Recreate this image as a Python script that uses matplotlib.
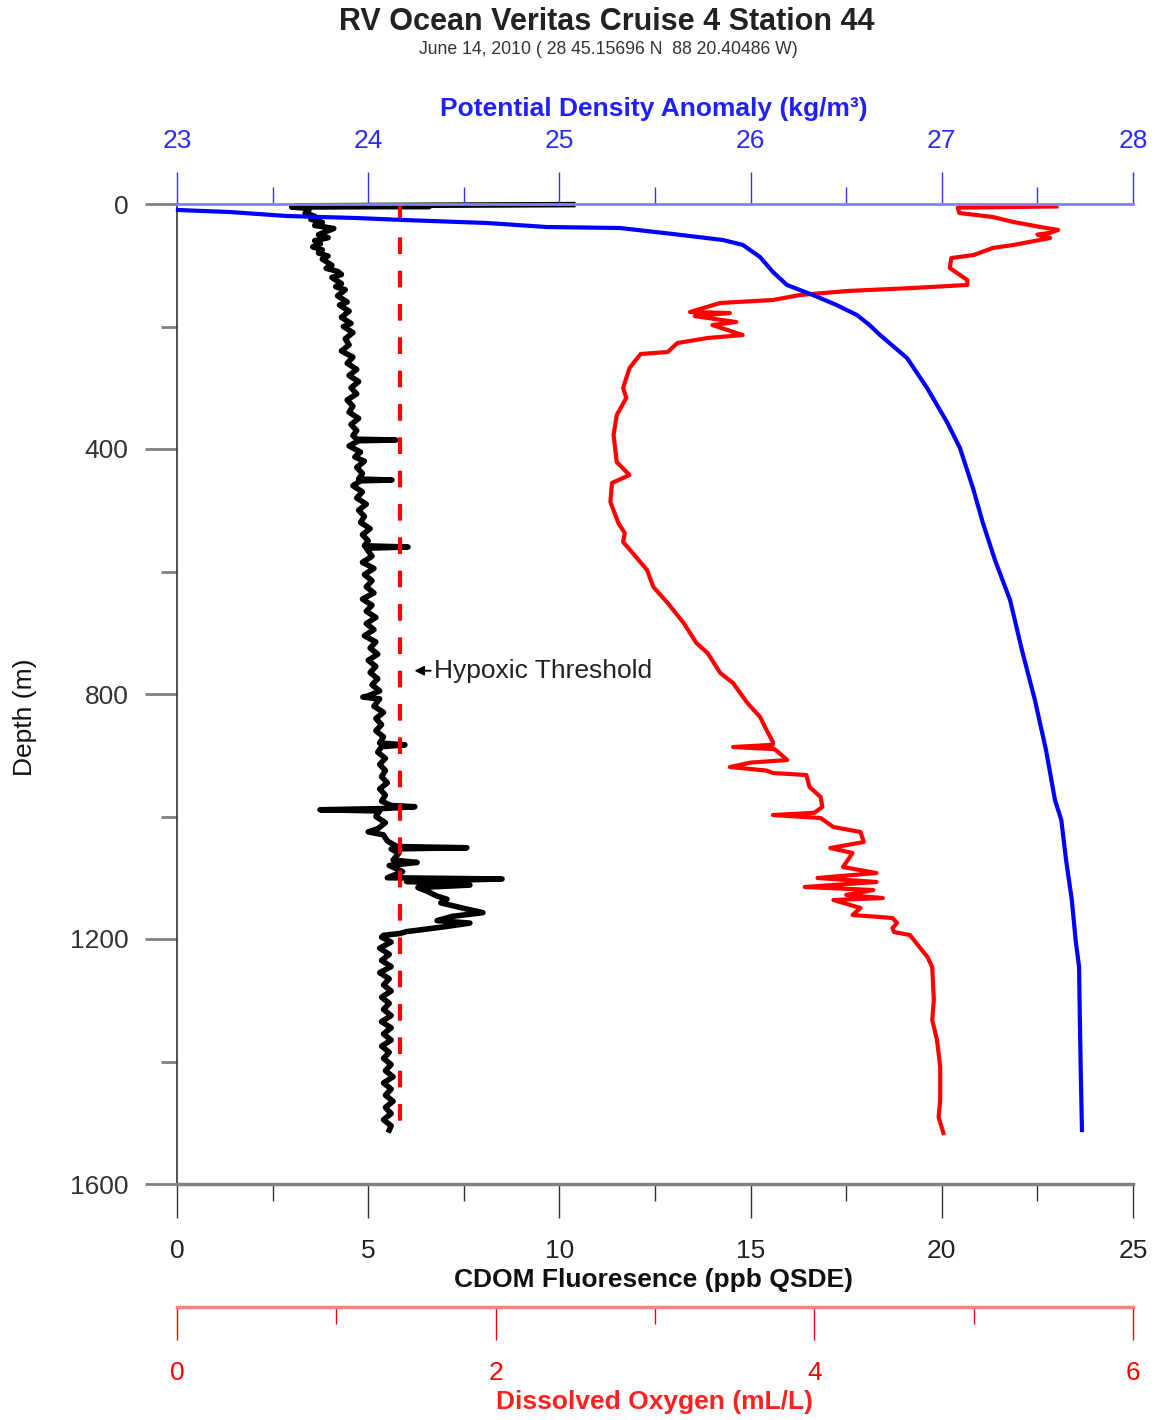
import matplotlib
matplotlib.use('Agg')
import matplotlib.pyplot as plt
from matplotlib.ticker import MultipleLocator

plt.rcParams['font.family'] = ['Liberation Sans', 'DejaVu Sans']

# ---------------- data ----------------
TITLE = "RV Ocean Veritas Cruise 4 Station 44"
SUBTITLE = "June 14, 2010 ( 28 45.15696 N  88 20.40486 W)"
HYPOXIC = 1.4  # mL/L

# CDOM fluorescence (ppb QSDE)
cdom_depth = [1, 2, 3, 4, 5, 7, 10, 15, 20, 25, 30, 35, 40, 45, 50, 55, 60, 65, 70, 75,
              80, 85, 90, 100, 105, 110, 115, 120, 130, 135, 140, 150, 160, 165, 175, 185,
              195, 200, 210, 220, 230, 240, 250, 260, 270, 280, 290, 300, 310, 320, 330,
              340, 350, 360, 370, 378, 384, 385.3, 386.5, 395, 405, 413, 420, 430, 440,
              449, 450.6, 452, 460, 470, 480, 490, 500, 510, 520, 530, 540, 550, 558, 560,
              562, 575, 585, 595, 605, 615, 625, 635, 645, 655, 665, 675, 685, 695, 705,
              715, 725, 735, 745, 755, 765, 775, 785, 795, 803, 805, 808, 820, 830, 840,
              850, 860, 870, 880, 883, 886, 895, 905, 915, 925, 935, 945, 955, 965, 975,
              982, 984, 987, 989, 991, 1000, 1010, 1020, 1025, 1030, 1040, 1049, 1051,
              1053, 1060, 1071, 1075, 1080, 1090, 1100, 1102, 1106, 1112, 1116, 1122,
              1130, 1135, 1141, 1150, 1157, 1163, 1170, 1174, 1180, 1188, 1191, 1194,
              1197, 1205, 1215, 1225, 1235, 1245, 1255, 1265, 1275, 1285, 1295, 1305,
              1315, 1325, 1335, 1345, 1355, 1365, 1375, 1385, 1395, 1405, 1415, 1425,
              1435, 1445, 1455, 1465, 1475, 1485, 1495, 1505, 1512]
cdom_value = [10.35, 6.5, 3.1, 6.6, 3.0, 3.4, 3.45, 3.35, 3.6, 3.5, 3.8, 3.6, 4.1, 3.9, 3.7,
              3.95, 3.6, 3.75, 3.55, 3.8, 3.7, 3.95, 3.8, 4.05, 3.9, 4.2, 4.3, 4.05, 4.3,
              4.15, 4.4, 4.2, 4.45, 4.25, 4.5, 4.3, 4.55, 4.35, 4.6, 4.4, 4.5, 4.3, 4.6,
              4.45, 4.7, 4.5, 4.75, 4.55, 4.7, 4.45, 4.6, 4.5, 4.75, 4.55, 4.7, 4.6, 4.7,
              5.72, 4.75, 4.5, 4.8, 4.65, 4.9, 4.7, 4.85, 4.75, 5.62, 4.8, 4.6, 4.85, 4.7,
              4.95, 4.75, 4.9, 4.8, 5.05, 4.85, 5.0, 4.9, 6.04, 4.95, 5.1, 4.85, 5.15, 4.9,
              5.1, 4.95, 5.15, 4.85, 5.1, 4.95, 5.2, 4.95, 5.15, 4.9, 5.2, 5.05, 5.25, 5.0,
              5.2, 5.05, 5.25, 5.1, 5.3, 5.0, 4.86, 5.3, 5.15, 5.4, 5.2, 5.35, 5.2, 5.4,
              5.3, 5.96, 5.35, 5.25, 5.45, 5.3, 5.45, 5.35, 5.5, 5.3, 5.45, 5.35, 5.6, 6.22,
              5.4, 3.74, 5.3, 5.2, 5.45, 5.25, 5.0, 5.4, 5.5, 5.75, 7.58, 5.6, 5.8, 5.65,
              6.28, 5.55, 5.9, 5.5, 8.50, 6.0, 7.66, 6.3, 6.54, 6.8, 7.06, 6.9, 7.5, 8.0,
              7.2, 6.8, 7.66, 7.0, 6.0, 5.83, 5.4, 5.35, 5.6, 5.3, 5.55, 5.35, 5.6, 5.3,
              5.55, 5.4, 5.6, 5.35, 5.55, 5.4, 5.6, 5.35, 5.6, 5.4, 5.6, 5.35, 5.55, 5.4,
              5.6, 5.45, 5.65, 5.4, 5.6, 5.45, 5.65, 5.45, 5.6, 5.4, 5.6, 5.55]

# Dissolved oxygen (mL/L)
oxy_depth = [4, 6, 14.7, 21.2, 29.4, 37.6, 42.4, 47, 50, 55.5, 66.9, 71.8, 83.3, 88.2, 104.5,
             124.1, 132.2, 137.1, 142.0, 148.6, 156.7, 161.6, 176.3, 178, 183, 192.7, 197.6,
             213.9, 218.8, 227, 241.6, 244.9, 267.8, 300.4, 316.7, 344.5, 377.2, 421.2,
             442.5, 455.5, 486.5, 520.8, 537.2, 551.8, 569.8, 597.6, 625.3, 651.5, 684.1,
             716.8, 733.1, 765.7, 782.1, 814.7, 837.6, 858.8, 878.4, 883, 886.6, 890,
             896.4, 907.8, 912, 919.2, 925, 929.0, 932.3, 951.9, 968.2, 984.5, 994, 997.6,
             1002.5, 1017.2, 1025.3, 1041.7, 1051.5, 1059.6, 1082.5, 1092.3, 1100.4,
             1106.9, 1115.1, 1120.0, 1128, 1133.1, 1136.3, 1149.4, 1160.8, 1165.7, 1173.9,
             1182.1, 1188.6, 1193.5, 1206.6, 1229.4, 1245.8, 1299.6, 1332.3, 1364.9,
             1409.0, 1462.9, 1490.7, 1516.8]
oxy_value = [5.52, 4.90, 4.91, 5.12, 5.25, 5.42, 5.53, 5.48, 5.40, 5.48, 5.25, 5.12, 5.00,
             4.86, 4.85, 4.96, 4.96, 4.62, 4.21, 3.91, 3.74, 3.41, 3.22, 3.47, 3.25, 3.51,
             3.36, 3.55, 3.33, 3.14, 3.08, 2.91, 2.84, 2.80, 2.82, 2.76, 2.74, 2.76, 2.84,
             2.73, 2.72, 2.77, 2.81, 2.80, 2.86, 2.95, 2.99, 3.08, 3.18, 3.26, 3.33, 3.41,
             3.49, 3.58, 3.66, 3.70, 3.74, 3.74, 3.49, 3.75, 3.78, 3.83, 3.60, 3.47, 3.70,
             3.74, 3.95, 3.97, 4.04, 4.05, 4.00, 3.74, 4.04, 4.12, 4.29, 4.31, 4.10, 4.24,
             4.18, 4.39, 4.02, 4.39, 3.94, 4.37, 4.20, 4.43, 4.12, 4.29, 4.24, 4.49, 4.52,
             4.49, 4.50, 4.60, 4.64, 4.71, 4.74, 4.75, 4.74, 4.77, 4.79, 4.79, 4.78, 4.81]

# Potential density anomaly (kg/m3)
dens_depth = [9.8, 13.1, 19.6, 22.9, 26.1, 31.0, 37.6, 39.2, 49.0, 58.8, 66.9, 86.5, 111.0,
              132.2, 148.6, 165.0, 181.2, 197.0, 213.9, 251.4, 300.4, 355.9, 398.4, 463.7,
              520.8, 581.2, 646.5, 728.2, 809.8, 891.5, 973.1, 1005.7, 1071.1, 1136.3,
              1201.7, 1245.8, 1330.0, 1420.0, 1511.9]
dens_value = [23.005, 23.277, 23.575, 23.941, 24.182, 24.621, 24.935, 25.317, 25.594,
              25.856, 25.960, 26.049, 26.117, 26.190, 26.326, 26.450, 26.556, 26.620,
              26.677, 26.818, 26.923, 27.027, 27.095, 27.163, 27.215, 27.278, 27.357,
              27.419, 27.487, 27.545, 27.592, 27.625, 27.650, 27.680, 27.700, 27.718,
              27.722, 27.727, 27.733]

# ---------------- figure ----------------
W, H = 1155, 1420
fig = plt.figure(figsize=(W / 100, H / 100), dpi=100)
ax = fig.add_axes([177 / W, (H - 1184) / H, (1133 - 177) / W, (1184 - 204) / H])

TICK_FS = 19
LAB_FS = 19

# CDOM (main axes)
ax.plot(cdom_value, cdom_depth, color='black', lw=4, clip_on=False)
ax.set_xlim(0, 25)
ax.set_ylim(1600, 0)
ax.xaxis.set_major_locator(MultipleLocator(5))
ax.xaxis.set_minor_locator(MultipleLocator(2.5))
ax.yaxis.set_major_locator(MultipleLocator(400))
ax.yaxis.set_minor_locator(MultipleLocator(200))
ax.spines['top'].set_visible(False)
ax.spines['right'].set_visible(False)
ax.spines['left'].set_color('#333333')
ax.spines['left'].set_linewidth(1.2)
ax.spines['bottom'].set_color('#808080')
ax.spines['bottom'].set_linewidth(2.5)
ax.tick_params(axis='x', which='major', direction='out', length=24.5, width=1,
               color='#333333', pad=15, labelsize=TICK_FS, labelcolor='#222222')
ax.tick_params(axis='x', which='minor', direction='out', length=12.5, width=1,
               color='#333333')
ax.tick_params(axis='y', which='major', direction='out', length=23, width=2,
               color='#808080', pad=12, labelsize=TICK_FS, labelcolor='#333333')
ax.tick_params(axis='y', which='minor', direction='out', length=11.5, width=2,
               color='#808080')

# Dissolved oxygen axis (bottom, offset)
ax_o = ax.twiny()
ax_o.set_xlim(0, 6)
ax_o.plot(oxy_value, oxy_depth, color='red', lw=3, clip_on=False)
ax_o.vlines(HYPOXIC, 0, max(oxy_depth), colors='red', lw=3, linestyles=(0, (4, 4)))
ax_o.xaxis.set_ticks_position('bottom')
ax_o.xaxis.set_label_position('bottom')
ax_o.spines['bottom'].set_position(('outward', 88.6))
for s in ['top', 'left', 'right']:
    ax_o.spines[s].set_visible(False)
ax_o.spines['bottom'].set_color('#ff8080')
ax_o.spines['bottom'].set_linewidth(2.5)
ax_o.xaxis.set_major_locator(MultipleLocator(2))
ax_o.xaxis.set_minor_locator(MultipleLocator(1))
ax_o.tick_params(axis='x', which='major', direction='out', length=24, width=1,
                 color='red', pad=15, labelsize=TICK_FS, labelcolor='red')
ax_o.tick_params(axis='x', which='minor', direction='out', length=12, width=1,
                 color='red')
ax_o.annotate('Hypoxic Threshold', xy=(1.49, 762), xytext=(1.61, 762),
              va='center', ha='left', fontsize=LAB_FS, color='#222222',
              arrowprops=dict(arrowstyle='-|>', color='black', lw=1.3,
                              mutation_scale=14, shrinkA=0, shrinkB=0))

# Density axis (top)
ax_d = ax.twiny()
ax_d.set_xlim(23, 28)
ax_d.plot(dens_value, dens_depth, color='blue', lw=3, clip_on=False)
for s in ['bottom', 'left', 'right']:
    ax_d.spines[s].set_visible(False)
ax_d.spines['top'].set_color('#8080ff')
ax_d.spines['top'].set_linewidth(2)
ax_d.xaxis.set_major_locator(MultipleLocator(1))
ax_d.xaxis.set_minor_locator(MultipleLocator(0.5))
ax_d.tick_params(axis='x', which='major', direction='out', length=23, width=1,
                 color='#3030ff', pad=14, labelsize=TICK_FS, labelcolor='#2a2aff')
ax_d.tick_params(axis='x', which='minor', direction='out', length=12, width=1,
                 color='#3030ff')

# Titles and axis labels
fig.text(607 / W, 1 - 22 / H, TITLE, ha='center', va='center', fontsize=22,
         fontweight='bold', color='#222222')
fig.text(608 / W, 1 - 49 / H, SUBTITLE, ha='center', va='center', fontsize=12.7,
         color='#333333')
fig.text(654 / W, 1 - 109 / H, 'Potential Density Anomaly (kg/m³)', ha='center',
         va='center', fontsize=LAB_FS, fontweight='bold', color='#2020ff')
fig.text(654 / W, 1 - 1280 / H, 'CDOM Fluoresence (ppb QSDE)', ha='center',
         va='center', fontsize=LAB_FS, fontweight='bold', color='#111111')
fig.text(654 / W, 1 - 1402 / H, 'Dissolved Oxygen (mL/L)', ha='center',
         va='center', fontsize=LAB_FS, fontweight='bold', color='#ff2020')
fig.text(25 / W, 1 - 717 / H, 'Depth (m)', ha='center', va='center', rotation=90,
         fontsize=LAB_FS, color='#111111')

fig.savefig('out.png', dpi=100)
